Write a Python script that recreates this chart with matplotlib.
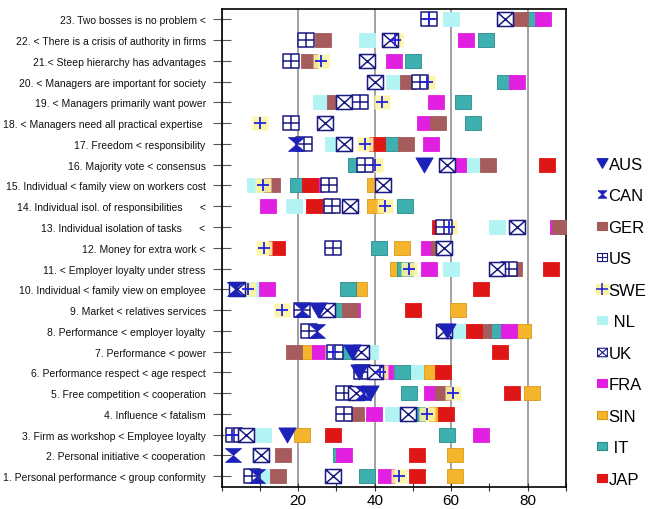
import numpy as np
import matplotlib
matplotlib.use("Agg")
import matplotlib.pyplot as plt
from matplotlib.path import Path
from matplotlib.lines import Line2D

nan = np.nan

# questions, bottom (1) to top (23)
questions = [
    "1. Personal performance < group conformity",
    "2. Personal initiative < cooperation",
    "3. Firm as workshop < Employee loyalty",
    "4. Influence < fatalism",
    "5. Free competition < cooperation",
    "6. Performance respect < age respect",
    "7. Performance < power",
    "8. Performance < employer loyalty",
    "9. Market < relatives services",
    "10. Individual < family view on employee",
    "11. < Employer loyalty under stress",
    "12. Money for extra work <",
    "13. Individual isolation of tasks      <",
    "14. Individual isol. of responsibilities      <",
    "15. Individual < family view on workers cost",
    "16. Majority vote < consensus",
    "17. Freedom < responsibility",
    "18. < Managers need all practical expertise ",
    "19. < Managers primarily want power",
    "20. < Managers are important for society",
    "21.< Steep hierarchy has advantages",
    "22. < There is a crisis of authority in firms",
    "23. Two bosses is no problem <",
]

# scores per country, rows 1..23
AUS = [nan, nan, 17.0, nan, 38.8, 36.0, 34.0, 59.0, 25.2, nan, nan, nan,
       nan, nan, nan, 52.8, nan, nan, nan, nan, nan, nan, nan]
CAN = [9.3, 3.0, nan, nan, 37.0, nan, nan, 24.9, 21.0, 3.5, nan, nan,
       nan, nan, nan, nan, 19.5, nan, nan, nan, nan, nan, nan]
GER = [14.8, 16.0, nan, 35.0, 57.8, nan, 18.8, 68.2, 33.5, nan, 76.5, 56.7,
       88.5, 27.5, 13.2, 69.5, 48.2, 56.6, 29.7, 48.6, 22.8, 26.4, 78.0]
US = [8.0, nan, 3.3, 31.9, 31.9, 36.8, 29.5, 22.9, 21.0, nan, 75.2, 29.0,
      58.2, 28.9, 28.0, 37.5, 21.5, 18.0, 36.1, 51.9, 18.0, 22.1, 54.1]
SWE = [46.4, nan, 2.7, 53.8, 60.6, 41.4, 29.2, nan, 15.7, 7.0, 49.1, 11.1,
       59.3, 42.7, 10.8, 40.1, 37.5, 9.9, 41.9, 53.6, 25.9, 45.4, 54.1]
NL = [12.2, 10.0, 10.9, 44.7, nan, 50.7, 38.8, 62.3, nan, 8.0, 60.0, nan,
      72.0, 19.0, 8.8, 66.0, 29.2, nan, 26.0, 45.0, 38.1, 38.0, 60.0]
UK = [29.0, 10.2, 6.4, 48.7, 35.1, 40.0, 36.4, 58.1, 27.5, 4.0, 72.0, 58.0,
      77.1, 33.5, 42.2, 59.0, 32.1, 27.0, 31.9, 40.1, 38.1, 44.0, 74.1]
FRA = [42.9, 31.9, 67.9, 39.8, 54.9, 42.7, 25.8, 75.0, 34.0, 11.9, 54.1, 54.1,
       88.0, 12.0, 24.5, 61.9, 54.8, 53.2, 55.9, 77.2, 45.0, 63.9, 84.0]
SIN = [61.0, 61.0, 20.9, 56.3, 81.0, 54.9, 21.8, 78.9, 61.9, 36.0, 46.0, 47.1,
       nan, 40.0, 40.0, nan, nan, nan, nan, nan, nan, nan, nan]
IT = [38.0, 31.1, 59.0, 51.0, 48.9, 47.1, 31.7, 71.9, 31.0, 33.0, 48.0, 41.0,
      nan, 48.0, 19.9, 35.1, 44.9, 65.8, 63.0, 74.0, 49.9, 69.0, 81.1]
JAP = [51.0, 51.0, 29.0, 58.7, 76.0, 57.8, 72.8, 65.9, 49.9, 67.9, 86.1, 14.4,
       57.1, 24.1, 23.1, 85.0, 40.6, nan, nan, nan, nan, nan, nan]

rows = np.arange(1, len(questions) + 1)

# marker shapes
w, h = 8, 7
rect = Path([(-w, -h), (w, -h), (w, h), (-w, h), (-w, -h)])
grid_box = Path([(-w, -h), (w, -h), (w, h), (-w, h), (-w, -h),
                 (-w, 0), (w, 0), (0, -h), (0, h)],
                [Path.MOVETO, Path.LINETO, Path.LINETO, Path.LINETO, Path.CLOSEPOLY,
                 Path.MOVETO, Path.LINETO, Path.MOVETO, Path.LINETO])
x_box = Path([(-w, -h), (w, -h), (w, h), (-w, h), (-w, -h),
              (-w, -h), (w, h), (-w, h), (w, -h)],
             [Path.MOVETO, Path.LINETO, Path.LINETO, Path.LINETO, Path.CLOSEPOLY,
              Path.MOVETO, Path.LINETO, Path.MOVETO, Path.LINETO])
hourglass = Path([(-w, h), (w, h), (-w, -h), (w, -h), (-w, h)])
tri_down = Path([(-w, h), (w, h), (0, -h), (-w, h)])

navy = "#1a1a80"
blue = "#1c22b8"
c_ger = "#a65c5c"
c_nl = "#b2f4f4"
c_fra = "#e01fe0"
c_sin = "#f4b52c"
c_it = "#3fb0b0"
c_jap = "#de1616"
c_swe = "#fbf4a0"

fig = plt.figure(figsize=(6.52, 5.10), dpi=100)
ax = fig.add_axes([0.340, 0.0441, 0.528, 0.9363])

ms = 11.5
fills = [(NL, c_nl, c_nl), (SIN, c_sin, "#d99a1a"), (IT, c_it, "#2a8c8c"),
         (FRA, c_fra, c_fra), (GER, c_ger, c_ger), (JAP, c_jap, c_jap)]
z = 3
for vals, fc, ec in fills:
    ax.plot(vals, rows, ls="none", marker=rect, ms=ms, mfc=fc, mec=ec, mew=0.6, zorder=z)
    z += 1
ax.plot(SWE, rows, ls="none", marker=rect, ms=ms, mfc=c_swe, mec="none", alpha=0.9, zorder=z)
ax.plot(SWE, rows, ls="none", marker="+", ms=8, mec="#2222dd", mew=1.3, zorder=z + 4)
ax.plot(US, rows, ls="none", marker=grid_box, ms=ms, mfc="white", mec=navy, mew=1.1, zorder=z + 1)
ax.plot(UK, rows, ls="none", marker=x_box, ms=ms, mfc="white", mec=navy, mew=1.1, zorder=z + 2)
ax.plot(CAN, rows, ls="none", marker=hourglass, ms=ms, mfc=blue, mec=blue, mew=0.5, zorder=z + 3)
ax.plot(AUS, rows, ls="none", marker=tri_down, ms=ms + 1, mfc=blue, mec=blue, mew=0.5, zorder=z + 3)

ax.set_xlim(0, 90)
ax.set_ylim(0.5, 23.5)
ax.set_xticks([0, 20, 40, 60, 80])
ax.set_xticklabels(["", "20", "40", "60", "80"], fontsize=11, family="Liberation Sans")
ax.set_xticks([10, 30, 50, 70, 90], minor=True)
ax.tick_params(axis="x", which="both", direction="inout", length=6, width=0.8, color="#333333", pad=2)
ax.set_yticks(rows)
ax.set_yticklabels(questions, fontsize=7.5, family="Liberation Sans", color="#111111")
ax.tick_params(axis="y", direction="inout", length=13, width=0.8, color="#555555", pad=5)
ax.grid(axis="x", which="major", color="#888888", lw=1.1, zorder=1)
for s in ax.spines.values():
    s.set_linewidth(1.2)
    s.set_color("black")

# legend
def box(c, m=rect, size=7, ec=None):
    return Line2D([], [], ls="none", marker=m, ms=size, mfc=c, mec=ec or c, mew=0.8)

handles = [
    box(blue, tri_down, 8),
    box(blue, hourglass, 6),
    box(c_ger),
    Line2D([], [], ls="none", marker=grid_box, ms=7, mfc="white", mec=navy, mew=0.8),
    (box(c_swe, size=8), Line2D([], [], ls="none", marker="+", ms=8, mec="#2222dd", mew=1.1)),
    box(c_nl),
    Line2D([], [], ls="none", marker=x_box, ms=7, mfc="white", mec=navy, mew=0.8),
    box(c_fra),
    box(c_sin, ec="#d99a1a"),
    box(c_it, ec="#2a8c8c"),
    box(c_jap),
]
labels = ["AUS", "CAN", "GER", "US", "SWE", " NL", "UK", "FRA", "SIN", " IT", "JAP"]
fig.legend(handles, labels, loc="upper left", bbox_to_anchor=(0.904, 0.707),
           frameon=False, prop={"family": "Liberation Sans", "size": 12},
           handlelength=0.5, handletextpad=0.15, labelspacing=0.99, borderpad=0)

fig.savefig("out.png", dpi=100)
